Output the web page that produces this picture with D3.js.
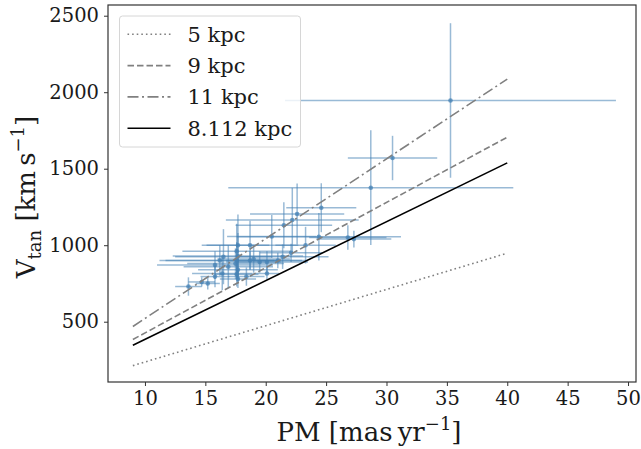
<!DOCTYPE html>
<html>
<head>
<meta charset="utf-8">
<script src="https://cdn.jsdelivr.net/npm/d3@7"></script>
<style>
  body { margin: 0; background: white; }
  svg text { font-family: "DejaVu Serif", serif; fill: #1a1a1a; }
</style>
</head>
<body>
<div id="chart"></div>
<script>
// proper motion [mas/yr], tangential velocity [km/s] and their errors
const pm    = [35.3, 30.5, 28.7, 24.6, 22.6, 22.2, 21.5, 20.5, 24.4, 27.3, 26.8, 18.7, 23.3, 22.1, 21.4, 20.1, 20.1, 21.0, 19.0,
               17.7, 17.6, 17.7, 17.6, 17.5, 17.7, 17.6, 17.7, 16.9, 16.4, 16.5, 16.2, 15.8, 15.8, 15.2, 14.7, 13.6, 18.4, 18.7, 19.5];
const pmErr = [13.7, 3.7, 11.8, 2.9, 3.9, 5.5, 4.0, 3.7, 6.8, 3.1, 3.2, 4.0, 2.5, 2.6, 3.8, 3.4, 1.0, 2.0, 3.0,
               2.6, 4.5, 5.4, 5.9, 4.0, 3.3, 1.8, 1.5, 3.7, 2.5, 4.0, 5.0, 4.8, 1.2, 1.0, 1.1, 1.1, 1.5, 2.0, 1.8];
const vt    = [1946, 1570, 1376, 1245, 1204, 1165, 1130, 1057, 1055, 1040, 1050, 1000, 1000, 950, 925, 890, 815, 900, 910,
               1000, 960, 930, 900, 880, 840, 810, 780, 860, 815, 925, 900, 870, 795, 750, 760, 730, 795, 900, 890];
const vtErr = [505, 145, 375, 160, 200, 210, 150, 140, 155, 55, 80, 160, 120, 60, 80, 70, 40, 50, 90,
               200, 180, 150, 120, 100, 90, 80, 60, 140, 110, 180, 100, 90, 70, 40, 30, 60, 60, 60, 70];

// reference lines for fixed distances (endpoints at PM = 9 and 40)
const lineLabels = ['5 kpc', '9 kpc', '11 kpc', '8.112 kpc'];
const linePm     = [9, 40];
const lineVt     = [[213, 948], [384, 1706], [469, 2086], [346, 1538]];

const xTicks = [10, 15, 20, 25, 30, 35, 40, 45, 50];
const yTicks = [500, 1000, 1500, 2000, 2500];

const W = 641, H = 449;
const margin = { top: 5, right: 5, bottom: 67, left: 108 };
const width = W - margin.left - margin.right;
const height = H - margin.top - margin.bottom;

const svg = d3.select('#chart').append('svg')
  .attr('width', W)
  .attr('height', H);

const g = svg.append('g')
  .attr('transform', `translate(${margin.left}, ${margin.top})`);

const x = d3.scaleLinear().domain([6.94, 50.66]).range([0, width]);
const y = d3.scaleLinear().domain([106, 2570]).range([height, 0]);

const lineStyles = [
  { dash: '1.6,3', color: '#808080', w: 1.6 },
  { dash: '6.5,3', color: '#808080', w: 1.6 },
  { dash: '11,3.5,2,3.5', color: '#808080', w: 1.6 },
  { dash: null, color: '#000000', w: 1.6 }
];

// error bars
const blue = '#4682b4';
const pts = pm.map((d, i) => ({ x: d, xe: pmErr[i], y: vt[i], ye: vtErr[i] }));
const eb = g.append('g').attr('class', 'errorbars');
eb.selectAll('.xe').data(pts).enter().append('line')
  .attr('x1', d => x(d.x - d.xe)).attr('x2', d => x(d.x + d.xe))
  .attr('y1', d => y(d.y)).attr('y2', d => y(d.y))
  .style('stroke', blue).style('stroke-opacity', 0.55).style('stroke-width', 1.5);
eb.selectAll('.ye').data(pts).enter().append('line')
  .attr('x1', d => x(d.x)).attr('x2', d => x(d.x))
  .attr('y1', d => y(d.y - d.ye)).attr('y2', d => y(d.y + d.ye))
  .style('stroke', blue).style('stroke-opacity', 0.55).style('stroke-width', 1.5);
eb.selectAll('circle').data(pts).enter().append('circle')
  .attr('cx', d => x(d.x)).attr('cy', d => y(d.y)).attr('r', 2.3)
  .style('fill', blue).style('fill-opacity', 0.75);

// distance lines
const line = d3.line().x(d => x(d[0])).y(d => y(d[1]));
lineVt.forEach((v, i) => {
  g.append('path')
    .datum(linePm.map((p, j) => [p, v[j]]))
    .attr('d', line)
    .style('fill', 'none')
    .style('stroke', lineStyles[i].color)
    .style('stroke-width', lineStyles[i].w)
    .style('stroke-dasharray', lineStyles[i].dash);
});

// axes
const xAxis = g.append('g')
  .attr('transform', `translate(0, ${height})`)
  .call(d3.axisBottom(x).tickValues(xTicks).tickFormat(d3.format('d')).tickSize(4).tickPadding(5));
const yAxis = g.append('g')
  .call(d3.axisLeft(y).tickValues(yTicks).tickFormat(d3.format('d')).tickSize(4).tickPadding(5));
[xAxis, yAxis].forEach(a => {
  a.select('.domain').remove();
  a.selectAll('line').style('stroke', '#333');
  a.selectAll('text').style('font-size', '19.5px').style('font-family', '"DejaVu Serif", serif').style('fill', '#1a1a1a');
});

// frame
g.append('rect')
  .attr('width', width).attr('height', height)
  .style('fill', 'none').style('stroke', '#333').style('stroke-width', 1.2);

// axis labels
const xl = svg.append('text')
  .attr('x', margin.left + width / 2 - 3).attr('y', 441)
  .attr('text-anchor', 'middle').style('font-size', '26px');
xl.append('tspan').text('PM [mas\u2009yr');
xl.append('tspan').attr('dy', -11).style('font-size', '18px').text('\u22121');
xl.append('tspan').attr('dy', 11).text(']');

const yl = svg.append('text')
  .attr('transform', `translate(35, ${margin.top + 192}) rotate(-90)`)
  .attr('text-anchor', 'middle').style('font-size', '26px');
yl.append('tspan').text('V');
yl.append('tspan').attr('dy', 6).style('font-size', '18px').text('tan');
yl.append('tspan').attr('dy', -6).text(' [km\u2009s');
yl.append('tspan').attr('dy', -11).style('font-size', '18px').text('\u22121');
yl.append('tspan').attr('dy', 11).text(']');

// legend
const lg = svg.append('g').attr('transform', 'translate(119.5, 16)');
lg.append('rect')
  .attr('width', 181).attr('height', 131).attr('rx', 3)
  .style('fill', 'white').style('fill-opacity', 0.8)
  .style('stroke', '#d6d6d6').style('stroke-width', 1);
lineLabels.forEach((lab, i) => {
  const yy = 18.3 + i * 31.3;
  lg.append('line')
    .attr('x1', 8).attr('x2', 51).attr('y1', yy).attr('y2', yy)
    .style('stroke', lineStyles[i].color)
    .style('stroke-width', lineStyles[i].w)
    .style('stroke-dasharray', lineStyles[i].dash);
  lg.append('text')
    .attr('x', 68).attr('y', yy).attr('dy', '0.35em')
    .style('font-size', '21px').text(lab);
});
</script>
</body>
</html>
